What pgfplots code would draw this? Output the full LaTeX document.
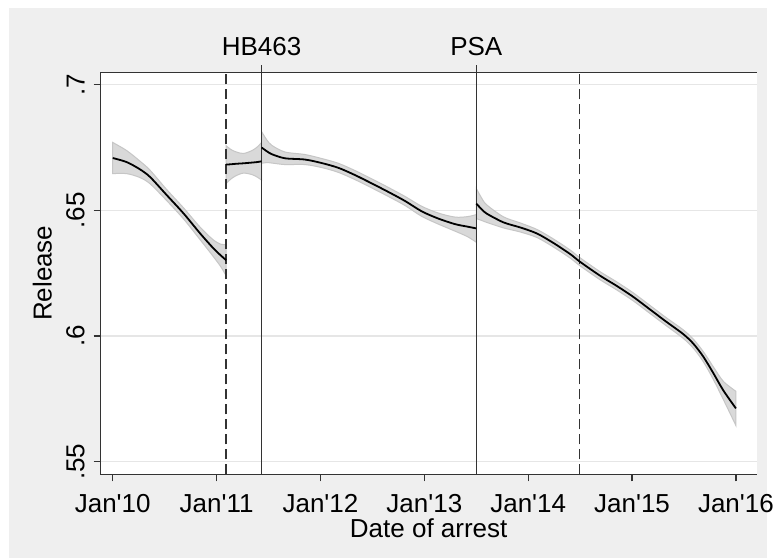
\documentclass[border=0pt]{standalone}
\usepackage{pgfplots}
\pgfplotsset{compat=1.18}
\usepackage{pgfplotstable}
\usepgfplotslibrary{fillbetween}
\usepackage{fontspec}
\setmainfont{Liberation Sans}

\definecolor{bggray}{HTML}{EFEFEF}
\definecolor{bandfill}{HTML}{D9D9D9}
\definecolor{bandedge}{HTML}{C6C6C6}
\definecolor{gridgray}{HTML}{E6E6E6}
\definecolor{linegray}{HTML}{333333}
\newcommand{\q}{\textquotesingle}

% x = months since Jan 2010, y = fitted release rate, h = half width of the band
\pgfplotstableread{
x     y       h
0.0   0.6708  0.0062
1.6   0.6692  0.0046
3.1   0.6664  0.0033
4.3   0.6633  0.0027
6.2   0.6562  0.0022
8.2   0.6487  0.0022
10.1  0.6408  0.0025
11.6  0.6350  0.0033
12.5  0.6320  0.0045
13.1  0.6302  0.0062
}\segA
\pgfplotstableread{
x     y       h
13.1  0.6682  0.0075
13.6  0.6683  0.0060
14.2  0.6685  0.0048
15.1  0.6687  0.0039
16.1  0.6690  0.0048
16.7  0.6692  0.0060
17.2  0.6695  0.0075
}\segB
\pgfplotstableread{
x     y       h
17.2  0.6750  0.0063
17.8  0.6735  0.0045
18.4  0.6723  0.0035
19.9  0.6707  0.0025
22.2  0.6702  0.0020
24.15 0.6688  0.0018
26.07 0.6669  0.0018
28.0  0.6640  0.0018
29.93 0.6607  0.0018
31.85 0.6573  0.0018
33.78 0.6537  0.0018
35.7  0.6496  0.0020
37.63 0.6467  0.0022
39.56 0.6445  0.0028
41.0  0.6435  0.0040
42.0  0.6428  0.0055
}\segC
\pgfplotstableread{
x     y       h
42.0  0.6527  0.0060
42.6  0.6505  0.0045
43.2  0.6487  0.0035
45.15 0.6452  0.0022
47.07 0.6432  0.0018
49.0  0.6408  0.0016
50.92 0.6370  0.0016
52.85 0.6326  0.0016
54.0  0.6295  0.0016
56.3  0.6240  0.0016
58.2  0.6200  0.0016
60.13 0.6156  0.0016
62.06 0.6106  0.0016
63.99 0.6056  0.0016
65.9  0.6008  0.0017
67.07 0.5970  0.0018
68.23 0.5918  0.0020
69.38 0.5853  0.0025
70.54 0.5784  0.0036
72.0  0.5712  0.0068
}\segD

\newcommand{\band}[2]{%
  \addplot[name path=#2u, draw=none, smooth] table[x=x, y expr=\thisrow{y}+\thisrow{h}] {#1};
  \addplot[name path=#2l, draw=none, smooth] table[x=x, y expr=\thisrow{y}-\thisrow{h}] {#1};
  \addplot[fill=bandfill, draw=bandedge, line width=0.5pt] fill between[of=#2u and #2l];
  \addplot[black, line width=0.9pt, smooth] table[x=x, y=y] {#1};
}

\begin{document}
\fontsize{13}{15}\selectfont
\begin{tikzpicture}
\begin{axis}[
  set layers,
  width=328pt, height=201pt, scale only axis,
  xmin=-1.39, xmax=74.4, ymin=0.545, ymax=0.7049,
  axis line style={draw=none},
  tick pos=left, tick align=outside, major tick length=3.5pt,
  tick style={linegray, line width=0.6pt},
  xtick={0,12,...,72},
  xticklabels={Jan\q10,Jan\q11,Jan\q12,Jan\q13,Jan\q14,Jan\q15,Jan\q16},
  ytick={0.55,0.6,0.65,0.7},
  yticklabels={.55,.6,.65,.7},
  ymajorgrids, grid style={gridgray, line width=0.7pt},
  xticklabel style={yshift=-2pt},
  yticklabel style={rotate=90, anchor=south},
  xlabel={Date of arrest}, ylabel={Release},
  xlabel style={at={(axis description cs:0.5,0)}, anchor=base, yshift=-31.5pt},
  ylabel style={at={([xshift=-24.5pt]axis description cs:0,0.5)}, anchor=base},
  clip=false,
]
% page, grey surround and white plot region, kept below everything
\begin{pgfonlayer}{axis background}
\fill[white] ([xshift=-50.35pt,yshift=-41.85pt]rel axis cs:0,0) rectangle ([xshift=9.65pt,yshift=36.15pt]rel axis cs:1,1);
\fill[bggray] ([xshift=-45.85pt,yshift=-41.85pt]rel axis cs:0,0) rectangle ([xshift=5.15pt,yshift=32.15pt]rel axis cs:1,1);
\fill[white] (rel axis cs:0,0) rectangle (rel axis cs:1,1);
\end{pgfonlayer}

% reference lines
\draw[linegray, line width=0.75pt, dash pattern=on 5pt off 2.5pt] (axis cs:13.1,0.545) -- (axis cs:13.1,0.7049);
\draw[linegray, line width=0.75pt, dash pattern=on 5pt off 2.5pt] (axis cs:53.92,0.545) -- (axis cs:53.92,0.7049);
\draw[linegray, line width=0.75pt] (axis cs:17.2,0.545) -- ([yshift=3.5pt]axis cs:17.2,0.7049);
\draw[linegray, line width=0.75pt] (axis cs:42,0.545) -- ([yshift=3.5pt]axis cs:42,0.7049);
\node[anchor=base] at ([yshift=8.5pt]axis cs:17.2,0.7049) {HB463};
\node[anchor=base] at ([yshift=8.5pt]axis cs:42,0.7049) {PSA};

\band{\segA}{a}
\band{\segB}{b}
\band{\segC}{c}
\band{\segD}{d}

% axis frame: left, bottom and top only
\draw[linegray, line width=0.7pt] (rel axis cs:0,1) -- (rel axis cs:0,0) -- (rel axis cs:1,0);
\draw[linegray, line width=0.7pt] (rel axis cs:0,1) -- (rel axis cs:1,1);
\end{axis}
\pgfresetboundingbox
\useasboundingbox (-50.35pt,-41.85pt) rectangle (337.65pt,237.15pt);
\end{tikzpicture}
\end{document}
